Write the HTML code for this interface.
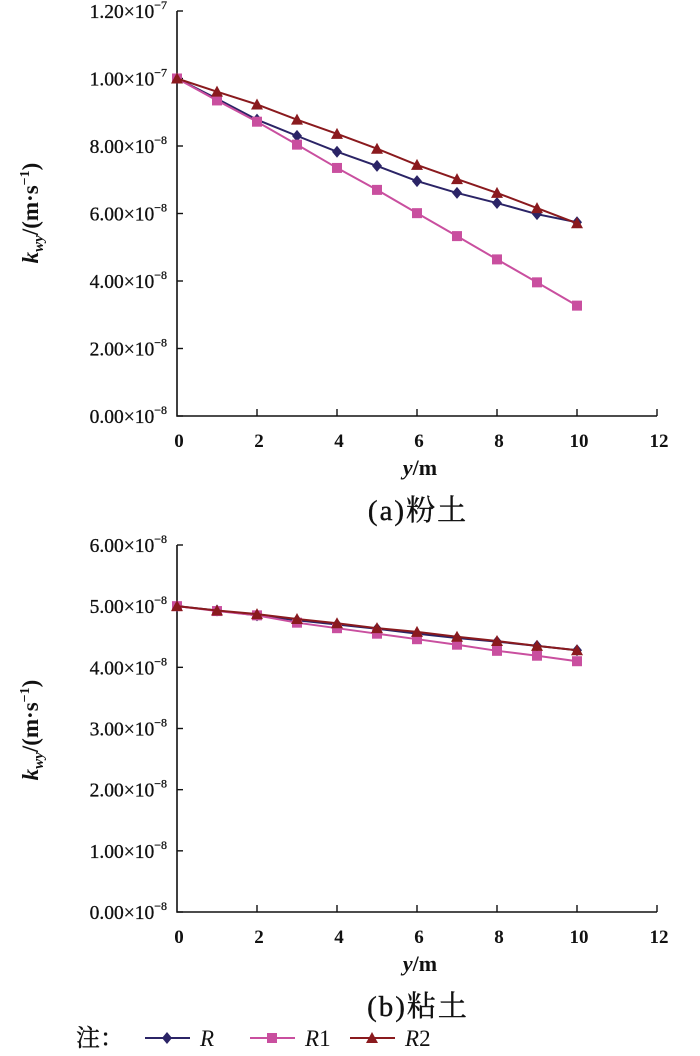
<!DOCTYPE html>
<html><head><meta charset="utf-8"><style>
html,body{margin:0;padding:0;background:#fff;}
svg{display:block;}
text{font-family:"Liberation Serif","Noto Serif CJK SC",serif;fill:#111;}
</style></head><body>
<svg id="svg" width="700" height="1056" viewBox="0 0 700 1056"></svg>
<script>
const xCats=[0,1,2,3,4,5,6,7,8,9,10];
const xTicks=[0,2,4,6,8,10,12];
const aR=[1.0,0.94,0.878,0.830,0.783,0.741,0.696,0.661,0.631,0.598,0.574];
const aR1=[1.0,0.935,0.872,0.804,0.735,0.670,0.601,0.533,0.464,0.396,0.327];
const aR2=[1.0,0.961,0.923,0.878,0.836,0.792,0.744,0.702,0.661,0.616,0.571];
const aTicks=[0,0.2,0.4,0.6,0.8,1.0,1.2];
const aTickLabels=["0.00×10","2.00×10","4.00×10","6.00×10","8.00×10","1.00×10","1.20×10"];
const aTickExp=["−8","−8","−8","−8","−8","−7","−7"];
const bR=[5.0,4.93,4.85,4.77,4.70,4.63,4.55,4.48,4.42,4.35,4.28];
const bR1=[5.0,4.92,4.85,4.73,4.64,4.55,4.46,4.37,4.27,4.19,4.10];
const bR2=[5.0,4.93,4.87,4.79,4.72,4.64,4.58,4.50,4.43,4.35,4.28];
const bTicks=[0,1,2,3,4,5,6];
const bTickLabels=["0.00×10","1.00×10","2.00×10","3.00×10","4.00×10","5.00×10","6.00×10"];
const bTickExp=["−8","−8","−8","−8","−8","−8","−8"];

const NS="http://www.w3.org/2000/svg";
const svg=document.getElementById('svg');
function mk(tag,attrs,parent){const e=document.createElementNS(NS,tag);for(const k in attrs)e.setAttribute(k,attrs[k]);(parent||svg).appendChild(e);return e;}
const colR="#2b2466",colR1="#c94f9f",colR2="#8a1a1e";

function marker(g,type,x,y,c){
  let m;
  if(type==='d'){m=mk('polygon',{points:`${x},${y-6} ${x+5},${y} ${x},${y+6} ${x-5},${y}`,fill:c},g);}
  else if(type==='s'){m=mk('rect',{x:x-5,y:y-5,width:10,height:10,fill:c},g);}
  else {m=mk('polygon',{points:`${x},${y-6} ${x+6},${y+5} ${x-6},${y+5}`,fill:c},g);}
  
  
}

function chart(opt){
  const g=mk('g',{});
  
  
  const x0=177,x1=657,y0=opt.yBottom,y1=opt.yTop;
  const X=v=>x0+(v-0)/12*(x1-x0);
  const Y=v=>y0-(v-opt.min)/(opt.max-opt.min)*(y0-y1);
  const ax=mk('path',{d:`M${x0},${y1} L${x0},${y0} L${x1},${y0}`,stroke:'#111','stroke-width':1.6,fill:'none'},g);
  
  
  opt.ticks.forEach((t,i)=>{
    const y=Y(t);
    mk('line',{x1:x0,y1:y,x2:x0+6,y2:y,stroke:'#111','stroke-width':1.4},g);
    const tx=mk('text',{x:167,y:y+7,'text-anchor':'end','font-size':19.5,'stroke':'#111','stroke-width':0.3},g);
    
    
    tx.textContent=opt.labels[i];
    const ts=mk('tspan',{dy:-9,'font-size':12},tx);ts.textContent=opt.exp[i];
  });
  xTicks.forEach(t=>{
    const x=X(t);
    if(t>0)mk('line',{x1:x,y1:y0,x2:x,y2:y0-7,stroke:'#111','stroke-width':1.4},g);
    const tx=mk('text',{x:x+2,y:y0+31,'text-anchor':'middle','font-size':19,'font-weight':'bold'},g);
    
    
    tx.textContent=t;
  });
  const xt=mk('text',{x:420,y:y0+59,'text-anchor':'middle','font-size':22,'font-weight':'bold'},g);
  
  
  xt.innerHTML='<tspan font-style="italic">y</tspan>/m';
  const cap=mk('text',{x:418,y:y0+104,'text-anchor':'middle','font-size':29,'letter-spacing':'2','stroke':'#111','stroke-width':0.4},g);
  
  
  cap.textContent=opt.caption;
  const yt=mk('text',{x:0,y:0,'text-anchor':'middle','font-size':23,'font-weight':'bold',transform:`translate(38,${opt.ytY}) rotate(-90)`},g);
  
  
  yt.innerHTML='<tspan font-style="italic">k</tspan><tspan font-style="italic" font-size="15" dy="5">wy</tspan><tspan dy="-5">/(m·s</tspan><tspan font-size="14" dy="-9">−1</tspan><tspan dy="9">)</tspan>';
  const series=[[opt.r,colR,'d','series-r'],[opt.r1,colR1,'s','series-r1'],[opt.r2,colR2,'t','series-r2']];
  series.forEach(([vals,c,m,nm])=>{
    const sg=mk('g',{},g);
    
    
    const pts=xCats.map((x,i)=>X(x)+','+Y(vals[i])).join(' ');
    const pl=mk('polyline',{points:pts,fill:'none',stroke:c,'stroke-width':2},sg);
    
    
    xCats.forEach((x,i)=>marker(sg,m,X(x),Y(vals[i]),c));
  });
}
chart({name:'chart-a-silt',yTop:11,yBottom:416,min:0,max:1.2,ticks:aTicks,labels:aTickLabels,exp:aTickExp,r:aR,r1:aR1,r2:aR2,caption:'(a)粉土',ytY:213});
chart({name:'chart-b-clay',yTop:545,yBottom:912,min:0,max:6,ticks:bTicks,labels:bTickLabels,exp:bTickExp,r:bR,r1:bR1,r2:bR2,caption:'(b)粘土',ytY:730});

const lg=mk('g',{});


const lt=mk('text',{x:76,y:1046,'font-size':24,'stroke':'#111','stroke-width':0.4},lg);
lt.textContent='注：';


const entries=[['R',colR,'d',145],['R1',colR1,'s',250],['R2',colR2,'t',350]];
entries.forEach(([lab,c,m,x])=>{
  const eg=mk('g',{},lg);
  
  
  mk('line',{x1:x,y1:1038,x2:x+45,y2:1038,stroke:c,'stroke-width':2},eg);
  marker(eg,m,x+22,1038,c);
  const t=mk('text',{x:x+55,y:1046,'font-size':23,'font-style':'italic'},eg);
  t.textContent=lab.charAt(0);
  if(lab.length>1){const s=mk('tspan',{'font-style':'normal'},t);s.textContent=lab.slice(1);}
});
</script>
</body></html>
